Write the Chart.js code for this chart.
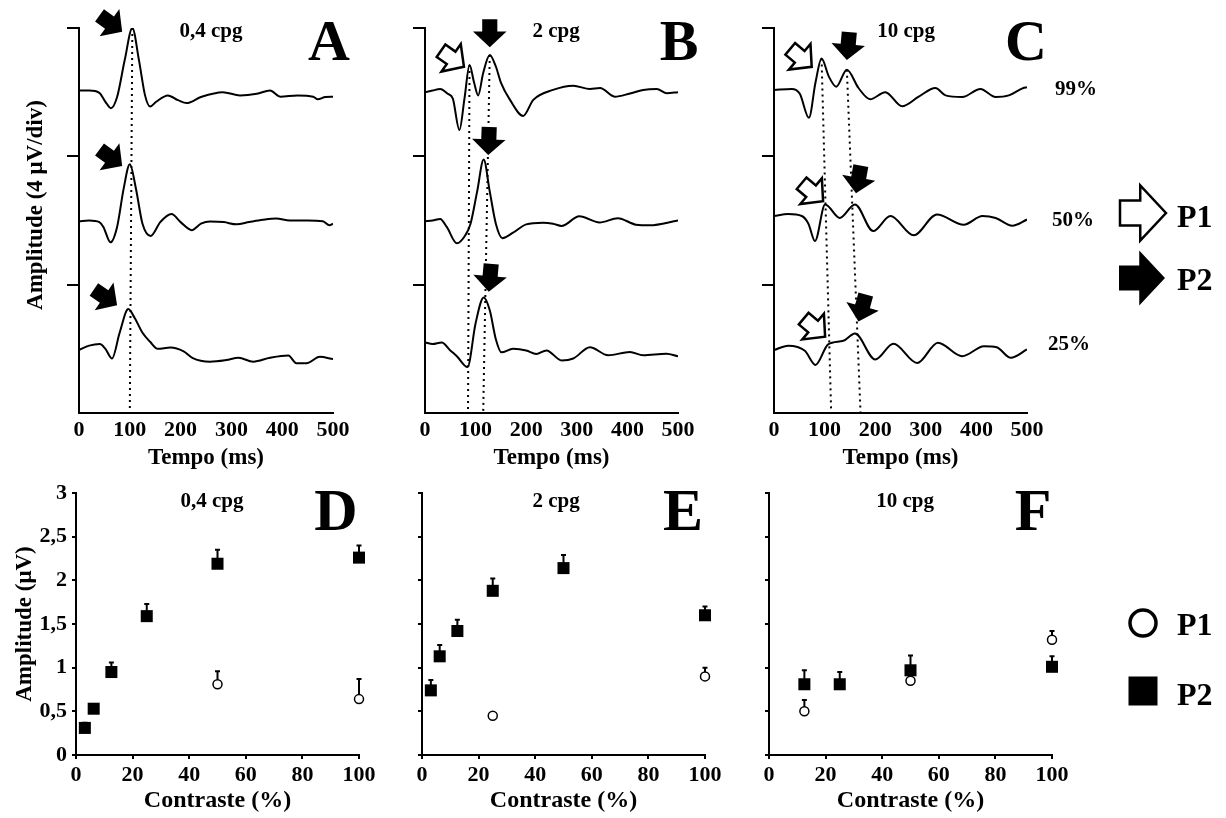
<!DOCTYPE html>
<html>
<head>
<meta charset="utf-8">
<script src="https://cdn.jsdelivr.net/npm/chart.js@4.4.1/dist/chart.umd.min.js"></script>
<style>
  body { margin: 0; background: #fff; width: 1226px; height: 818px; position: relative; overflow: hidden; }
  canvas { position: absolute; }
</style>
</head>
<body>
<canvas id="chartA" width="355" height="475" style="left:0;top:0"></canvas>
<canvas id="chartB" width="350" height="475" style="left:350px;top:0"></canvas>
<canvas id="chartC" width="526" height="475" style="left:700px;top:0"></canvas>
<canvas id="chartD" width="380" height="348" style="left:0;top:470px"></canvas>
<canvas id="chartE" width="346" height="348" style="left:380px;top:470px"></canvas>
<canvas id="chartF" width="496" height="348" style="left:730px;top:470px"></canvas>
<script>
// --- VEP traces, [tempo ms, amplitude µV] (offset baselines 10 / 6 / 2) ---
const traceA99 = [[0,10.05],[20,10.05],[40,9.98],[52,9.7],[63,9.5],[75,9.85],[90,11.0],[105,12.0],[118,11.0],[130,9.9],[140,9.55],[152,9.7],[175,9.9],[195,9.75],[212,9.66],[240,9.85],[283,10.0],[317,9.9],[350,9.95],[376,10.05],[396,9.86],[430,9.9],[461,9.86],[470,9.78],[485,9.85],[500,9.86]];
const traceA50 = [[0,5.98],[20,6.0],[40,5.95],[48,5.8],[62,5.32],[75,5.8],[88,7.0],[100,7.75],[112,7.0],[125,5.9],[141,5.52],[160,5.95],[182,6.2],[200,5.95],[222,5.7],[240,5.9],[258,5.97],[285,5.95],[310,5.88],[335,5.95],[362,6.02],[388,6.06],[415,6.0],[450,6.0],[480,5.98],[493,5.85],[500,5.9]];
const traceA25 = [[0,1.97],[20,2.1],[41,2.15],[52,2.0],[65,1.7],[80,2.5],[97,3.24],[110,2.95],[125,2.5],[140,2.22],[155,2.0],[180,2.04],[206,1.92],[223,1.72],[258,1.6],[290,1.65],[314,1.72],[343,1.6],[376,1.72],[412,1.79],[428,1.55],[448,1.55],[474,1.75],[500,1.68]];

const traceB99 = [[0,10.0],[15,10.05],[30,10.1],[45,9.95],[55,9.8],[68,8.82],[78,9.8],[88,10.85],[97,10.3],[105,9.9],[115,10.6],[128,11.16],[140,10.8],[150,10.3],[168,9.76],[194,9.26],[214,9.76],[253,10.07],[293,10.2],[326,10.1],[346,10.13],[375,9.86],[405,9.96],[431,10.07],[458,10.1],[478,9.97],[500,10.0]];
const traceB50 = [[0,5.98],[15,6.0],[30,6.05],[43,5.8],[63,5.29],[80,5.55],[90,5.9],[103,6.9],[116,7.9],[128,6.9],[140,5.9],[153,5.45],[174,5.62],[200,5.88],[233,5.93],[253,5.9],[270,5.83],[305,6.13],[345,5.94],[381,6.07],[417,5.87],[444,5.85],[500,6.0]];
const traceB25 = [[0,2.2],[15,2.15],[33,2.2],[50,1.95],[63,1.77],[84,1.43],[100,2.8],[116,3.6],[128,3.2],[140,2.3],[151,1.89],[174,2.0],[200,1.95],[220,1.84],[240,1.95],[270,1.64],[293,1.7],[326,2.05],[362,1.8],[405,1.9],[431,1.8],[477,1.85],[500,1.77]];

const traceC99 = [[0,10.07],[35,10.1],[51,9.95],[69,9.2],[82,10.3],[94,11.05],[108,10.5],[123,10.17],[144,10.7],[167,10.13],[190,9.78],[220,10.0],[253,9.56],[286,9.86],[319,10.13],[339,9.9],[372,9.85],[408,10.1],[438,9.85],[464,9.9],[494,10.14],[500,10.15]];
const traceC50 = [[0,6.14],[28,6.2],[55,6.14],[68,5.9],[81,5.36],[101,6.5],[130,6.08],[160,6.5],[196,5.67],[230,6.14],[276,5.54],[322,6.19],[375,5.87],[412,6.14],[438,6.08],[471,5.84],[500,6.03]];
const traceC25 = [[0,1.96],[28,2.1],[61,1.94],[82,1.5],[107,2.14],[137,2.25],[160,2.48],[200,1.67],[236,2.16],[283,1.56],[324,2.19],[372,1.77],[415,2.08],[440,2.05],[468,1.72],[500,1.98]];

// dotted latency guides
const dotsA = [[[105,12],[100,0]]];
const dotsB = [[[88,10.85],[85,0]], [[128,11.16],[115,0]]];
const dotsC = [[[94,11.05],[113,0]], [[144,10.7],[171,0]]];

// --- amplitude vs contrast, P2 (filled squares) and P1 (open circles) ---
const contrastD2 = [3.125, 6.25, 12.5, 25, 50, 100];
const p2D = [0.31, 0.53, 0.95, 1.59, 2.19, 2.26];
const p2DErr = [0.06, 0.03, 0.11, 0.14, 0.16, 0.14];
const contrastD1 = [50, 100];
const p1D = [0.81, 0.64];
const p1DErr = [0.15, 0.23];

const contrastE2 = [3.125, 6.25, 12.5, 25, 50, 100];
const p2E = [0.74, 1.13, 1.42, 1.88, 2.14, 1.60];
const p2EErr = [0.12, 0.13, 0.13, 0.14, 0.15, 0.10];
const contrastE1 = [25, 100];
const p1E = [0.45, 0.90];
const p1EErr = [0, 0.10];

const contrastF2 = [12.5, 25, 50, 100];
const p2F = [0.81, 0.81, 0.97, 1.01];
const p2FErr = [0.16, 0.14, 0.17, 0.12];
const contrastF1 = [12.5, 50, 100];
const p1F = [0.50, 0.85, 1.32];
const p1FErr = [0.13, 0, 0.10];

const SERIF = '"Liberation Serif", "Times New Roman", serif';
Chart.defaults.font.family = SERIF;
Chart.defaults.font.weight = 'bold';
Chart.defaults.color = '#000';

function drawArrow(ctx, x, y, deg, filled, L) {
    const H = 0.56 * L, hw = 0.6 * L, sw = 0.27 * L;
    ctx.save();
    ctx.translate(x, y);
    ctx.rotate(deg * Math.PI / 180);
    ctx.beginPath();
    ctx.moveTo(0, 0);
    ctx.lineTo(-H, -hw);
    ctx.lineTo(-H, -sw);
    ctx.lineTo(-L, -sw);
    ctx.lineTo(-L, sw);
    ctx.lineTo(-H, sw);
    ctx.lineTo(-H, hw);
    ctx.closePath();
    if (filled) {
        ctx.fillStyle = '#000';
        ctx.fill();
    } else {
        ctx.fillStyle = '#fff';
        ctx.fill();
        ctx.lineWidth = 2.5;
        ctx.strokeStyle = '#000';
        ctx.stroke();
    }
    ctx.restore();
}

// titles, panel letters, arrows, error bars, side legends
const panelDecor = {
    id: 'panelDecor',
    beforeDatasetsDraw(chart) {
        const ctx = chart.ctx, xs = chart.scales.x, ys = chart.scales.y;
        chart.data.datasets.forEach(ds => {
            if (!ds.errUp) return;
            ctx.save();
            ctx.strokeStyle = '#000';
            ctx.lineWidth = 2;
            ds.data.forEach((p, j) => {
                const e = ds.errUp[j];
                if (!e) return;
                const x = xs.getPixelForValue(p.x);
                const y0 = ys.getPixelForValue(p.y);
                const y1 = ys.getPixelForValue(p.y + e);
                ctx.beginPath();
                ctx.moveTo(x, y0);
                ctx.lineTo(x, y1);
                ctx.moveTo(x - 2.5, y1);
                ctx.lineTo(x + 2.5, y1);
                ctx.stroke();
            });
            ctx.restore();
        });
    },
    afterDraw(chart, args, o) {
        const ctx = chart.ctx, xs = chart.scales.x, ys = chart.scales.y, ca = chart.chartArea;
        ctx.save();
        ctx.fillStyle = '#000';
        ctx.textAlign = 'center';
        ctx.textBaseline = 'alphabetic';
        ctx.font = 'bold 21px ' + SERIF;
        ctx.fillText(o.title, ca.left + o.titleDx, o.textBase);
        ctx.font = 'bold ' + o.letterSize + 'px ' + SERIF;
        ctx.fillText(o.letter, ca.left + o.letterDx, o.letterBase);
        (o.arrows || []).forEach(a => drawArrow(ctx, xs.getPixelForValue(a.t), ys.getPixelForValue(a.v), a.a, a.f, o.arrowL));
        (o.icons || []).forEach(ic => {
            if (ic.kind === 'arrow') {
                drawArrow(ctx, ic.x, ic.y, 0, ic.f, ic.L);
            } else if (ic.kind === 'circle') {
                ctx.beginPath();
                ctx.arc(ic.x, ic.y, ic.r, 0, Math.PI * 2);
                ctx.lineWidth = 3.5;
                ctx.strokeStyle = '#000';
                ctx.stroke();
            } else if (ic.kind === 'square') {
                ctx.fillRect(ic.x - ic.s / 2, ic.y - ic.s / 2, ic.s, ic.s);
            }
        });
        (o.texts || []).forEach(t => {
            ctx.save();
            ctx.font = 'bold ' + t.size + 'px ' + SERIF;
            ctx.textAlign = t.align || 'center';
            ctx.textBaseline = t.rot ? 'middle' : 'alphabetic';
            ctx.translate(t.x, t.y);
            if (t.rot) ctx.rotate(t.rot * Math.PI / 180);
            ctx.fillText(t.text, 0, 0);
            ctx.restore();
        });
        ctx.restore();
    }
};

function fixWidth(w) {
    return s => { s.width = w; s.paddingTop = 0; s.paddingBottom = 0; };
}
function fixHeight(h) {
    return s => { s.height = h; s.paddingLeft = 0; s.paddingRight = 0; };
}

function traceChart(id, traces, dots, yWidth, padRight, decor) {
    const datasets = traces.map(tr => ({
        data: tr.map(p => ({x: p[0], y: p[1]})),
        borderColor: '#000',
        borderWidth: 2,
        pointRadius: 0,
        cubicInterpolationMode: 'monotone'
    }));
    dots.forEach(d => datasets.push({
        data: d.map(p => ({x: p[0], y: p[1]})),
        borderColor: '#000',
        borderWidth: 2,
        borderDash: [2, 4],
        pointRadius: 0
    }));
    new Chart(document.getElementById(id), {
        type: 'line',
        data: {datasets},
        options: {
            responsive: false,
            animation: false,
            events: [],
            layout: {padding: {top: 28, right: padRight, bottom: 0, left: 0}},
            plugins: {legend: {display: false}, tooltip: {enabled: false}, panelDecor: decor},
            scales: {
                x: {
                    type: 'linear', min: 0, max: 500,
                    ticks: {stepSize: 100, padding: 4, font: {size: 22}},
                    grid: {display: false, drawTicks: false},
                    border: {color: '#000', width: 2},
                    title: {display: true, text: 'Tempo (ms)', font: {size: 23, lineHeight: 1}, padding: {top: 0, bottom: 5.5}},
                    afterFit: fixHeight(62)
                },
                y: {
                    min: 0, max: 12,
                    ticks: {stepSize: 4, display: false},
                    grid: {
                        drawOnChartArea: false, tickLength: 12, lineWidth: 2,
                        color: c => (c.tick && c.tick.value === 0) ? 'rgba(0,0,0,0)' : '#000'
                    },
                    border: {color: '#000', width: 2},
                    afterFit: fixWidth(yWidth)
                }
            }
        },
        plugins: [panelDecor]
    });
}

function contrastChart(id, x2, v2, e2, x1, v1, e1, yWidth, padRight, showY, decor) {
    new Chart(document.getElementById(id), {
        type: 'scatter',
        data: {
            datasets: [
                {
                    label: 'P2',
                    data: x2.map((x, i) => ({x, y: v2[i]})),
                    errUp: e2,
                    clip: false,
                    pointStyle: 'rect', pointRadius: 8.5,
                    backgroundColor: '#000', borderColor: '#000', borderWidth: 0
                },
                {
                    label: 'P1',
                    data: x1.map((x, i) => ({x, y: v1[i]})),
                    errUp: e1,
                    clip: false,
                    pointStyle: 'circle', pointRadius: 4.5,
                    backgroundColor: '#fff', borderColor: '#000', borderWidth: 1.5
                }
            ]
        },
        options: {
            responsive: false,
            animation: false,
            events: [],
            layout: {padding: {top: 23, right: padRight, bottom: 0, left: 0}},
            plugins: {legend: {display: false}, tooltip: {enabled: false}, panelDecor: decor},
            scales: {
                x: {
                    min: 0, max: 100,
                    ticks: {stepSize: 20, padding: 3, font: {size: 22}},
                    grid: {drawOnChartArea: false, tickLength: 4, lineWidth: 2, color: '#000'},
                    border: {color: '#000', width: 2},
                    title: {display: true, text: 'Contraste (%)', font: {size: 24, lineHeight: 1}, padding: {top: 0, bottom: 5}},
                    afterFit: fixHeight(63)
                },
                y: {
                    min: 0, max: 3,
                    ticks: {
                        stepSize: 0.5, padding: 5, display: showY, font: {size: 22},
                        callback: v => String(v).replace('.', ',')
                    },
                    grid: {drawOnChartArea: false, tickLength: 4, lineWidth: 2, color: '#000'},
                    border: {color: '#000', width: 2},
                    title: {display: showY, text: 'Amplitude (μV)', font: {size: 23, lineHeight: 1}, padding: {top: 14, bottom: 0}},
                    afterFit: fixWidth(yWidth)
                }
            }
        },
        plugins: [panelDecor]
    });
}

traceChart('chartA', [traceA99, traceA50, traceA25], dotsA, 79, 22, {
    title: '0,4 cpg', titleDx: 132, textBase: 37,
    letter: 'A', letterDx: 250, letterBase: 60, letterSize: 58,
    arrowL: 28,
    arrows: [
        {t: 85, v: 11.88, a: 36, f: true},
        {t: 85, v: 7.7, a: 36, f: true},
        {t: 75, v: 3.36, a: 34, f: true}
    ],
    texts: [{text: 'Amplitude (4 μV/div)', x: 36, y: 205, rot: -90, size: 23}]
});

traceChart('chartB', [traceB99, traceB50, traceB25], dotsB, 75, 22, {
    title: '2 cpg', titleDx: 131, textBase: 37,
    letter: 'B', letterDx: 254, letterBase: 60, letterSize: 58,
    arrowL: 28,
    arrows: [
        {t: 77, v: 10.79, a: 35, f: false},
        {t: 128, v: 11.4, a: 90, f: true},
        {t: 125, v: 8.04, a: 92, f: true},
        {t: 126, v: 3.78, a: 95, f: true}
    ]
});

traceChart('chartC', [traceC99, traceC50, traceC25], dotsC, 74, 199, {
    title: '10 cpg', titleDx: 132, textBase: 37,
    letter: 'C', letterDx: 252, letterBase: 60, letterSize: 58,
    arrowL: 28,
    arrows: [
        {t: 74.5, v: 10.79, a: 40, f: false},
        {t: 144, v: 11.0, a: 95, f: true},
        {t: 97, v: 6.6, a: 40, f: false},
        {t: 162, v: 6.85, a: 100, f: true},
        {t: 101, v: 2.38, a: 40, f: false},
        {t: 167, v: 2.85, a: 105, f: true}
    ],
    icons: [
        {kind: 'arrow', x: 466, y: 213, f: false, L: 46},
        {kind: 'arrow', x: 465, y: 278, f: true, L: 46}
    ],
    texts: [
        {text: '99%', x: 376, y: 95, size: 21},
        {text: '50%', x: 373, y: 226, size: 21},
        {text: '25%', x: 369, y: 350, size: 21},
        {text: 'P1', x: 477, y: 227, size: 32, align: 'left'},
        {text: 'P2', x: 477, y: 290, size: 32, align: 'left'}
    ]
});

contrastChart('chartD', contrastD2, p2D, p2DErr, contrastD1, p1D, p1DErr, 76, 21, true, {
    title: '0,4 cpg', titleDx: 136, textBase: 37,
    letter: 'D', letterDx: 260, letterBase: 60, letterSize: 60
});

contrastChart('chartE', contrastE2, p2E, p2EErr, contrastE1, p1E, p1EErr, 42, 21, false, {
    title: '2 cpg', titleDx: 134, textBase: 37,
    letter: 'E', letterDx: 261, letterBase: 60, letterSize: 60
});

contrastChart('chartF', contrastF2, p2F, p2FErr, contrastF1, p1F, p1FErr, 39, 174, false, {
    title: '10 cpg', titleDx: 136, textBase: 37,
    letter: 'F', letterDx: 264, letterBase: 60, letterSize: 60,
    icons: [
        {kind: 'circle', x: 413, y: 153, r: 13},
        {kind: 'square', x: 413, y: 221, s: 29}
    ],
    texts: [
        {text: 'P1', x: 447, y: 165, size: 32, align: 'left'},
        {text: 'P2', x: 447, y: 235, size: 32, align: 'left'}
    ]
});
</script>
</body>
</html>
